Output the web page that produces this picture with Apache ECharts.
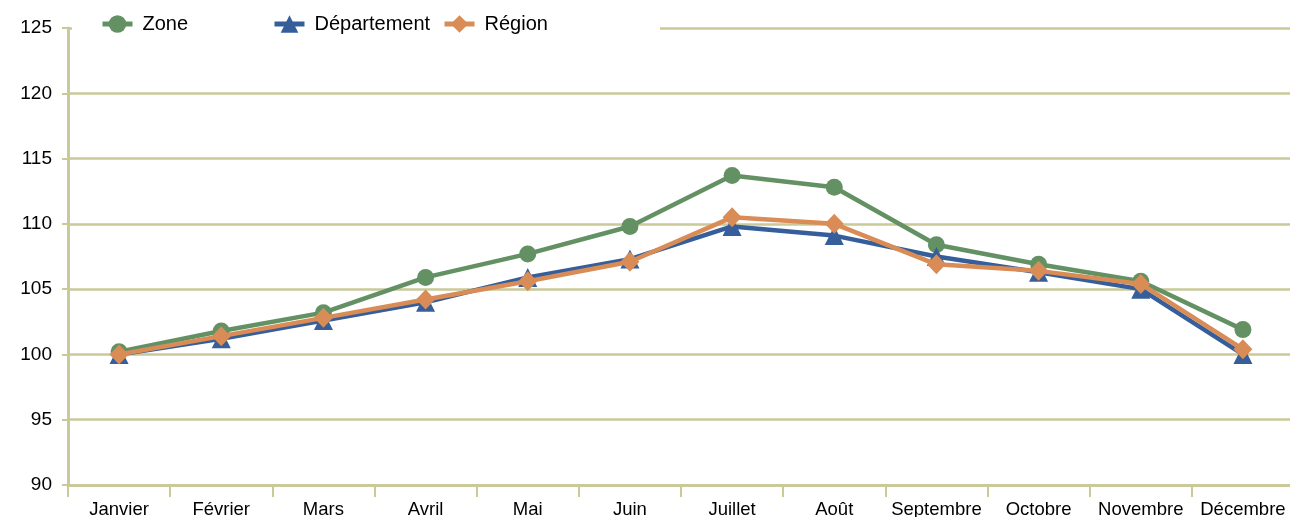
<!DOCTYPE html>
<html><head><meta charset="utf-8">
<script src="https://cdn.jsdelivr.net/npm/echarts@6/dist/echarts.min.js"></script>
<style>html,body{margin:0;padding:0;background:#fff}#c{width:1290px;height:517px}</style>
</head><body><div id="c"></div>
<script>
const categories = ['Janvier','Février','Mars','Avril','Mai','Juin','Juillet','Août','Septembre','Octobre','Novembre','Décembre'];
const zone = [100.2,101.8,103.2,105.9,107.7,109.8,113.7,112.8,108.4,106.9,105.6,101.9];
const departement = [100.0,101.2,102.6,104.0,105.9,107.3,109.8,109.1,107.5,106.3,105.0,100.0];
const region = [100.0,101.4,102.8,104.2,105.6,107.1,110.5,110.0,106.9,106.4,105.4,100.4];
const yTicks = [90,95,100,105,110,115,120,125];

const grid = '#c9c99a';
const chart = echarts.init(document.getElementById('c'));
const font = 'Liberation Sans, Arial, sans-serif';
const legendBase = {top: 9, itemWidth: 30, itemHeight: 22, z: 10,
  lineStyle: {width: 5},
  textStyle: {fontFamily: font, fontSize: 20, color: '#000', padding: [0, 0, 0, 5]}, itemGap: 10};
chart.setOption({
  animation: false,
  graphic: [{type: 'rect', shape: {x: 72, y: 16, width: 588, height: 22}, style: {fill: '#fff'}, z: 5}],
  legend: [
    Object.assign({}, legendBase, {left: 95, data: ['Zone']}),
    Object.assign({}, legendBase, {left: 267, data: ['Département']}),
    Object.assign({}, legendBase, {left: 437, data: ['Région']})
  ],
  grid: {left: 68, right: -4, top: 28, bottom: 32, containLabel: false, outerBoundsMode: 'none'},
  xAxis: {
    type: 'category', data: categories, boundaryGap: true,
    axisLine: {lineStyle: {color: grid, width: 3}},
    axisTick: {show: true, length: 12, lineStyle: {color: grid, width: 2}},
    axisLabel: {fontFamily: font, fontSize: 18.5, color: '#000', margin: 15, interval: 0}
  },
  yAxis: {
    type: 'value', min: 90, max: 125, interval: 5,
    axisLine: {show: true, lineStyle: {color: grid, width: 3}},
    axisTick: {show: true, length: 6, lineStyle: {color: grid, width: 2}},
    splitLine: {lineStyle: {color: grid, width: 2.5}},
    axisLabel: {fontFamily: font, fontSize: 19, color: '#000', margin: 16,
      formatter: v => yTicks.includes(v) ? String(v) : ''}
  },
  series: [
    {name: 'Zone', type: 'line', data: zone, symbol: 'circle', symbolSize: 17,
      lineStyle: {color: '#639163', width: 4.5}, itemStyle: {color: '#639163'}, z: 2},
    {name: 'Département', type: 'line', data: departement, symbol: 'triangle', symbolSize: 19,
      lineStyle: {color: '#355e9a', width: 4.5}, itemStyle: {color: '#355e9a'}, z: 3},
    {name: 'Région', type: 'line', data: region, symbol: 'diamond', symbolSize: [19,20],
      lineStyle: {color: '#d98c55', width: 4.5}, itemStyle: {color: '#d98c55'}, z: 4}
  ]
});
</script></body></html>
